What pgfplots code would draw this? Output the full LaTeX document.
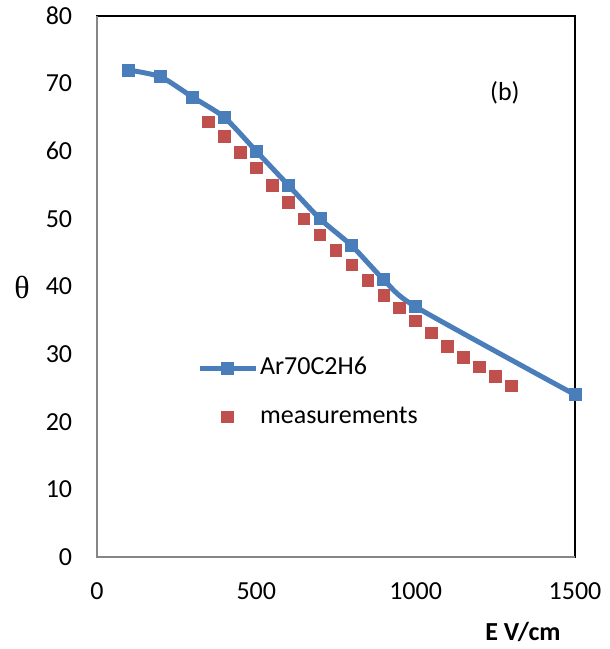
\documentclass[border=0pt]{standalone}
\usepackage{fontspec}
\setmainfont{Carlito}
\newfontfamily\thetafont{Liberation Serif}
\usepackage{pgfplots}
\pgfplotsset{compat=1.18}
\definecolor{exblue}{HTML}{4A7EBB}
\definecolor{exred}{HTML}{C0504D}
\definecolor{axgray}{HTML}{868686}
\begin{document}
\fontsize{26pt}{31pt}\selectfont
\begin{tikzpicture}
\useasboundingbox (0,0) rectangle (610pt,649pt);
\begin{axis}[
  at={(97pt,92pt)}, anchor=south west,
  scale only axis, width=478pt, height=541pt,
  xmin=0, xmax=1500, ymin=0, ymax=80,
  xtick={0,500,1000,1500}, ytick={0,10,...,80},
  major tick length=0pt,
  tick label style={font=\fontsize{26pt}{31pt}\selectfont},
  /pgf/number format/assume math mode=true,
  /pgf/number format/1000 sep={},
  yticklabel style={xshift=-16pt},
  xticklabel style={yshift=-17pt},
  axis line style={black, line width=1.3pt},
  clip=false,
  xlabel={\bfseries E V/cm},
  ylabel={\thetafont θ},
  every axis x label/.style={at={(rel axis cs:0.891,0)}, anchor=center, yshift=-75pt, font=\fontsize{26pt}{31pt}\selectfont},
  every axis y label/.style={at={(rel axis cs:0,0.499)}, anchor=center, xshift=-75pt, font=\fontsize{32pt}{36pt}\selectfont},
  legend style={at={(rel axis cs:0.209,0.304)}, anchor=west, draw=none, fill=none,
    font=\fontsize{26pt}{31pt}\selectfont, inner sep=0pt, row sep=21pt, column sep=0pt,
    nodes={text height=18pt, text depth=6pt, inner sep=2pt}},
  legend cell align=left,
  legend image code/.code={\draw[mark repeat=2,mark phase=2,#1] plot coordinates {(0pt,0pt) (28pt,0pt) (56pt,0pt)};},
]
\addplot[color=exblue, line width=5pt, smooth, tension=0.4, mark=square*, mark size=6pt, mark options={solid, fill=exblue, draw=exblue, line width=0pt}]
  coordinates {(100,72) (200,71) (300,68) (400,65) (500,60) (600,55) (700,50) (800,46) (900,41) (1000,37) (1500,24)};
\addlegendentry{Ar70C2H6}
\addplot[only marks, mark=square*, mark size=5.8pt, mark options={fill=exred, draw=exred, line width=0pt}]
  coordinates {(350,64.3) (400,62.2) (450,59.8) (500,57.5) (550,54.9) (600,52.4) (650,50.0) (700,47.6) (750,45.3) (800,43.2) (850,40.9) (900,38.7) (950,36.8) (1000,34.9) (1050,33.1) (1100,31.1) (1150,29.5) (1200,28.1) (1250,26.7) (1300,25.3)};
\addlegendentry{measurements}
\draw[color=axgray, line width=1.5pt] (rel axis cs:0,1) -- (rel axis cs:0,0) -- (rel axis cs:1,0);
\node[font=\fontsize{26pt}{31pt}\selectfont] at (axis cs:1280,68.6) {(b)};
\end{axis}
\end{tikzpicture}
\end{document}
